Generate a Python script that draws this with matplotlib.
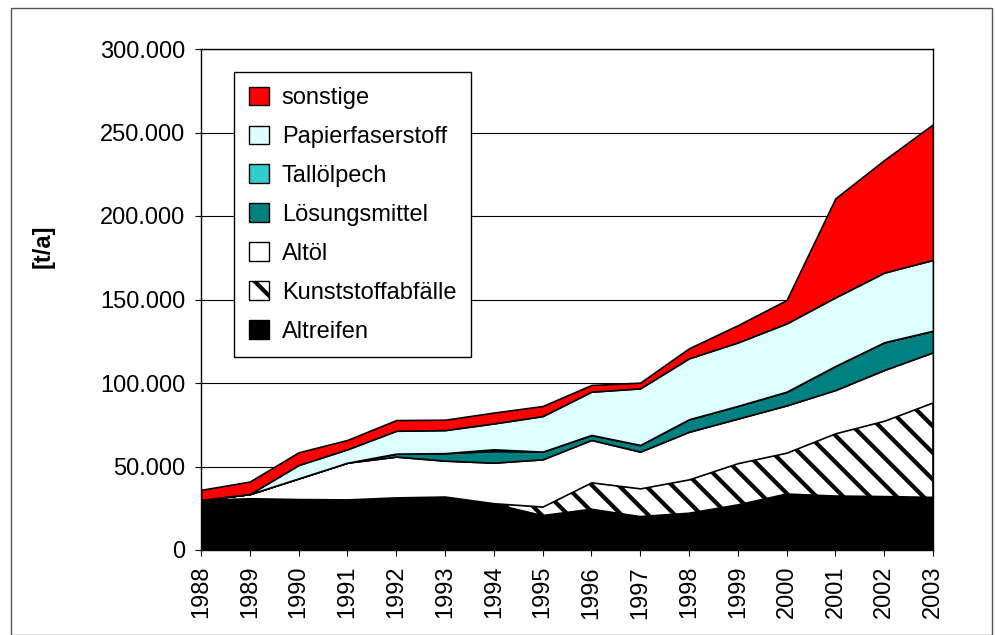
import matplotlib
matplotlib.use("Agg")
import matplotlib.pyplot as plt
import numpy as np
from matplotlib.patches import Patch, Rectangle
from matplotlib.ticker import FuncFormatter

# dpi 80 so the hatch stripes get the spacing of the original (~13 px);
# sizes below are given for 100 dpi and scaled with K
DPI = 80
K = 100 / DPI

plt.rcParams['font.family'] = ['Liberation Sans', 'DejaVu Sans']
plt.rcParams['hatch.linewidth'] = 3.0 * K
plt.rcParams['hatch.color'] = 'black'

years = list(range(1988, 2004))

# t/a (stacked bottom -> top)
altreifen = [30000, 31000, 30500, 30300, 31500, 32000, 27500, 20600,
             24400, 20000, 22000, 27000, 33500, 32300, 32000, 31500]
kunststoff = [0, 0, 0, 0, 0, 0, 500, 5400,
              16100, 16900, 20300, 25000, 24800, 37600, 45400, 56900]
altoel = [0, 2500, 12400, 22000, 24400, 21500, 24300, 28300,
          25400, 22000, 28500, 26700, 28300, 25900, 30400, 30000]
loesungsmittel = [0, 0, 0, 0, 1800, 4500, 7000, 4600,
                  3000, 4000, 7500, 7600, 8200, 14400, 16600, 12900]
talloelpech = [0, 0, 0, 0, 0, 0, 1000, 0,
               0, 0, 0, 0, 0, 0, 0, 0]
papier = [0, 0, 8000, 8000, 13700, 13800, 15500, 21300,
          25900, 33900, 36500, 38000, 40900, 41100, 41700, 42400]
sonstige = [6000, 7500, 7600, 5600, 6400, 6200, 6500, 6000,
            4000, 3400, 6000, 10300, 14000, 59300, 67400, 81200]

series = [
    ("Altreifen", altreifen, "black", None),
    ("Kunststoffabfälle", kunststoff, "white", "\\"),
    ("Altöl", altoel, "white", None),
    ("Lösungsmittel", loesungsmittel, "#008080", None),
    ("Tallölpech", talloelpech, "#33CCCC", None),
    ("Papierfaserstoff", papier, "#DDFFFF", None),
    ("sonstige", sonstige, "#FF0000", None),
]

fs = 17 * K

fig = plt.figure(figsize=(995 / DPI, 635 / DPI), dpi=DPI)
ax = fig.add_axes([201/995, 1 - 550/635, 732/995, 501/635])

x = np.array(years)
base = np.zeros(len(years))
handles = []
for name, vals, color, hatch in series:
    top = base + np.array(vals)
    ax.fill_between(x, base, top, facecolor=color, edgecolor='black',
                    linewidth=1.2 * K, hatch=hatch, zorder=2)
    handles.append(Patch(facecolor=color, edgecolor='black', hatch=hatch,
                         linewidth=1.0 * K, label=name))
    base = top

ax.set_xlim(1988, 2003)
ax.set_ylim(0, 300000)
ax.set_xticks(years)
ax.set_xticklabels([str(y) for y in years], rotation=90)
ax.set_yticks(range(0, 300001, 50000))
ax.yaxis.set_major_formatter(FuncFormatter(lambda v, p: f"{int(v):,}".replace(",", ".")))
ax.tick_params(direction='out', length=4.5 * K, width=0.8 * K, labelsize=fs, pad=7 * K)
ax.grid(axis='y', color='black', linewidth=0.8 * K, zorder=1)
ax.set_axisbelow(True)
for s in ax.spines.values():
    s.set_linewidth(1.0 * K)
    s.set_zorder(3)

fig.text(43/995, 1 - 246/635, "[t/a]", rotation=90, fontsize=fs,
         fontweight='bold', ha='center', va='center')

leg = ax.legend(handles[::-1], [h.get_label() for h in handles[::-1]],
                loc='upper left', bbox_to_anchor=(234/995, 1 - 72/635),
                bbox_transform=fig.transFigure, fontsize=fs, frameon=True,
                fancybox=False, edgecolor='black', framealpha=1,
                handlelength=0.85, handleheight=0.85, handletextpad=0.55,
                labelspacing=0.69, borderpad=0.62, borderaxespad=0)
leg.get_frame().set_linewidth(1.0 * K)
leg.set_zorder(5)

fig.patches.append(Rectangle((11/995, 0), 981/995, 1 - 8/635, transform=fig.transFigure,
                             fill=False, edgecolor='#555555', linewidth=1.0 * K))

fig.savefig("out.png", dpi=DPI)
